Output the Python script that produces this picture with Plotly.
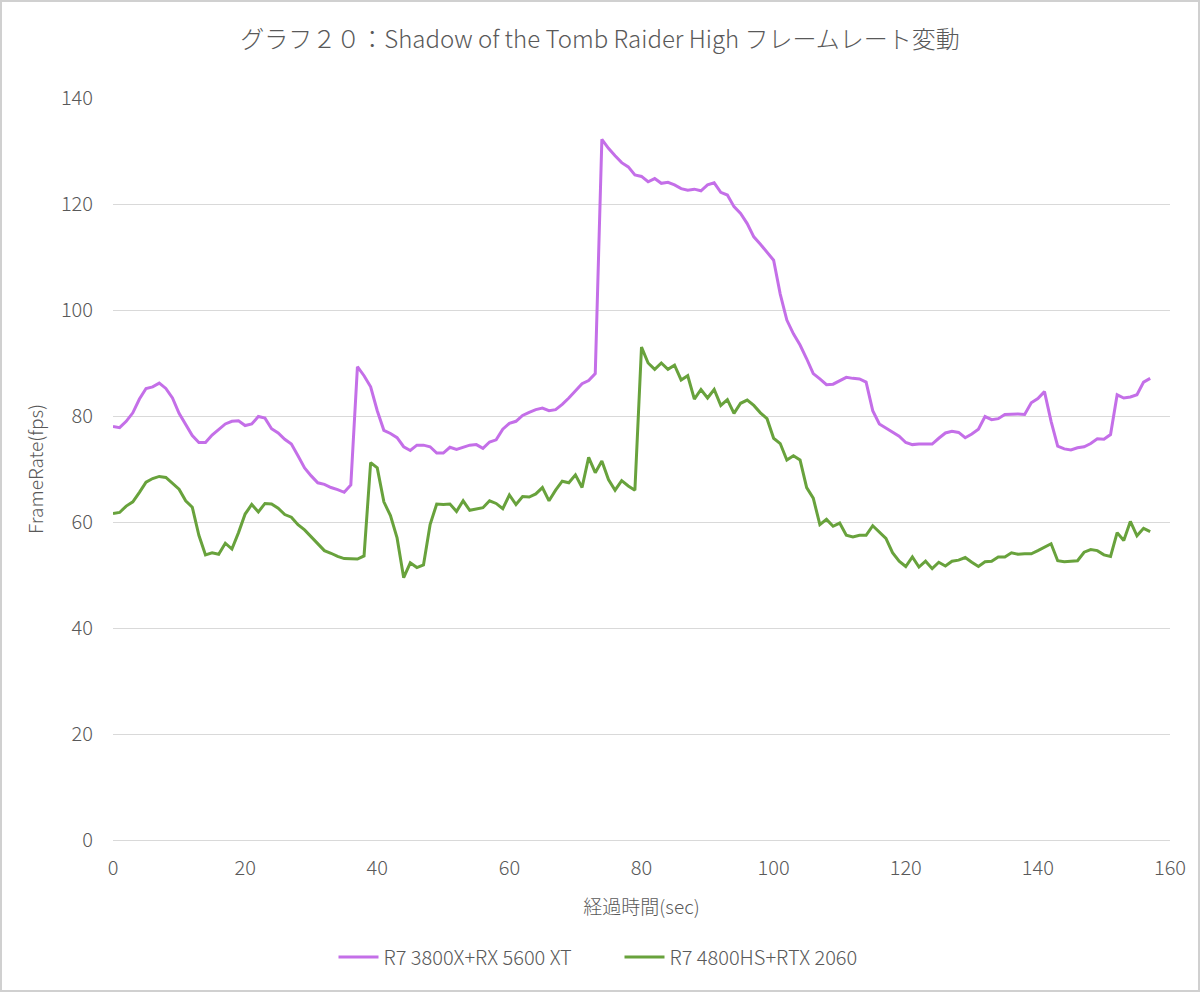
import plotly.graph_objects as go

# elapsed time (sec)
time_sec = list(range(158))

# R7 3800X+RX 5600 XT (fps)
fps_3800x = [
    78.0, 77.8, 79.0, 80.6, 83.2, 85.2, 85.5, 86.2, 85.2, 83.4,
    80.5, 78.3, 76.3, 75.0, 75.0, 76.4, 77.4, 78.5, 79.0, 79.1,
    78.2, 78.5, 79.9, 79.6, 77.6, 76.8, 75.6, 74.7, 72.5, 70.2,
    68.7, 67.4, 67.1, 66.5, 66.1, 65.6, 67.0, 89.3, 87.6, 85.5,
    81.0, 77.3, 76.7, 75.9, 74.2, 73.5, 74.5, 74.5, 74.2, 73.0,
    73.0, 74.1, 73.7, 74.1, 74.5, 74.6, 73.9, 75.1, 75.5, 77.5,
    78.6, 79.0, 80.1, 80.7, 81.2, 81.5, 81.0, 81.2, 82.2, 83.4,
    84.8, 86.1, 86.7, 88.0, 132.2, 130.5, 129.1, 127.8, 127.0, 125.5,
    125.2, 124.2, 124.8, 123.9, 124.1, 123.6, 122.9, 122.6, 122.8, 122.5,
    123.6, 124.0, 122.2, 121.7, 119.5, 118.2, 116.3, 113.8, 112.4, 110.9,
    109.4, 103.0, 98.1, 95.5, 93.4, 90.8, 88.0, 87.0, 85.9, 86.0,
    86.7, 87.3, 87.1, 87.0, 86.4, 81.0, 78.5, 77.7, 77.0, 76.2,
    75.0, 74.6, 74.7, 74.7, 74.7, 75.8, 76.8, 77.1, 76.9, 75.9,
    76.6, 77.5, 79.9, 79.3, 79.5, 80.3, 80.4, 80.4, 80.3, 82.5,
    83.3, 84.6, 79.0, 74.3, 73.8, 73.6, 74.0, 74.2, 74.8, 75.7,
    75.6, 76.5, 84.0, 83.4, 83.6, 84.0, 86.4, 87.1,
]

# R7 4800HS+RTX 2060 (fps)
fps_4800hs = [
    61.6, 61.8, 63.0, 63.8, 65.6, 67.5, 68.2, 68.6, 68.4, 67.3,
    66.2, 64.0, 62.8, 57.5, 53.8, 54.2, 53.9, 56.0, 54.9, 58.0,
    61.5, 63.3, 61.9, 63.5, 63.4, 62.6, 61.4, 60.9, 59.5, 58.5,
    57.2, 55.8, 54.6, 54.1, 53.5, 53.1, 53.1, 53.0, 53.6, 71.2,
    70.2, 63.8, 61.2, 57.0, 49.5, 52.3, 51.4, 51.9, 59.5, 63.4,
    63.3, 63.4, 62.0, 64.0, 62.2, 62.4, 62.7, 64.0, 63.5, 62.5,
    65.1, 63.3, 64.8, 64.7, 65.3, 66.5, 64.0, 66.0, 67.7, 67.4,
    68.9, 66.5, 72.2, 69.3, 71.5, 68.0, 66.0, 67.8, 66.8, 66.0,
    93.0, 90.0, 88.8, 90.0, 88.8, 89.6, 86.8, 87.6, 83.2, 85.0,
    83.4, 85.0, 82.0, 83.1, 80.5, 82.4, 83.0, 82.0, 80.6, 79.5,
    75.8, 74.8, 71.7, 72.5, 71.7, 66.5, 64.5, 59.5, 60.5, 59.2,
    59.8, 57.5, 57.2, 57.5, 57.5, 59.3, 58.1, 56.9, 54.2, 52.6,
    51.6, 53.4, 51.5, 52.6, 51.2, 52.4, 51.7, 52.6, 52.8, 53.3,
    52.4, 51.6, 52.5, 52.6, 53.4, 53.4, 54.2, 53.9, 54.0, 54.0,
    54.6, 55.3, 55.9, 52.7, 52.5, 52.6, 52.7, 54.3, 54.8, 54.6,
    53.8, 53.5, 58.0, 56.5, 60.1, 57.4, 58.8, 58.2,
]

series_names = ["R7 3800X+RX 5600 XT", "R7 4800HS+RTX 2060"]
x_ticks = [0, 20, 40, 60, 80, 100, 120, 140, 160]
y_ticks = [0, 20, 40, 60, 80, 100, 120, 140]

FONT = "Noto Sans CJK JP"
TXT = "#595959"

fig = go.Figure()
fig.add_trace(go.Scatter(x=time_sec, y=fps_3800x, mode="lines", name=series_names[0],
                         line=dict(color="#C46FE8", width=3)))
fig.add_trace(go.Scatter(x=time_sec, y=fps_4800hs, mode="lines", name=series_names[1],
                         line=dict(color="#68A23C", width=3)))

W, H = 1200, 992
ml, mr, mt, mb = 113, 30, 98, 152
pw, ph = W - ml - mr, H - mt - mb

fig.update_layout(
    width=W, height=H,
    margin=dict(l=ml, r=mr, t=mt, b=mb),
    paper_bgcolor="white", plot_bgcolor="white",
    font=dict(family=FONT, color=TXT, size=19, weight=300),
    title=dict(text="グラフ２０：Shadow of the Tomb Raider High フレームレート変動",
               x=0.5, xanchor="center", y=1 - 40 / H, yanchor="middle",
               font=dict(size=24, color=TXT, family=FONT, weight=300)),
    xaxis=dict(range=[0, 160], tickvals=x_ticks, showgrid=False, zeroline=False,
               showline=False, ticks="", tickfont=dict(size=20, color=TXT),
               ticklabelstandoff=14,
               title=dict(text="経過時間(sec)", font=dict(size=19, color=TXT), standoff=20)),
    yaxis=dict(range=[0, 140], tickvals=y_ticks, showgrid=True, gridcolor="#D9D9D9",
               gridwidth=1, zeroline=True, zerolinecolor="#D9D9D9", zerolinewidth=1,
               showline=False, ticks="", tickfont=dict(size=20, color=TXT),
               ticklabelstandoff=19,
               title=dict(text="FrameRate(fps)", font=dict(size=19, color=TXT), standoff=12)),
    legend=dict(orientation="h", x=0.5 - 22 / pw, xanchor="center", y=-(957 - 840) / ph,
                yanchor="middle", font=dict(size=20, color=TXT), itemwidth=40,
                tracegroupgap=0, entrywidth=231),
    showlegend=True,
)

# outer chart border
fig.add_shape(type="rect", xref="paper", yref="paper",
              x0=(1 - ml) / pw, x1=(W - 1 - ml) / pw,
              y0=-(mb - 1) / ph, y1=1 + (mt - 1) / ph,
              line=dict(color="#D0D0D0", width=2), fillcolor="rgba(0,0,0,0)")

fig.write_html("out.html", config={"displayModeBar": False},
               post_script="document.body.style.margin='0';")
